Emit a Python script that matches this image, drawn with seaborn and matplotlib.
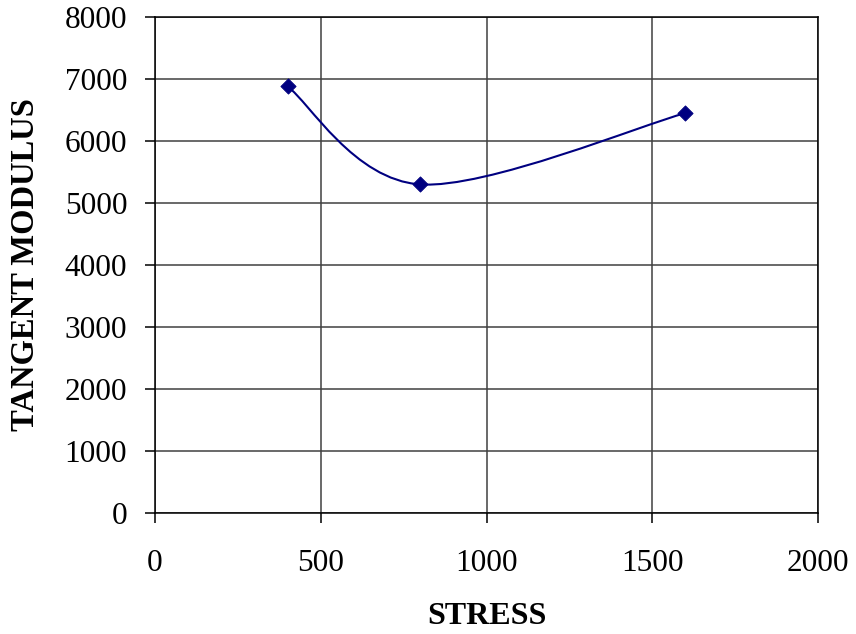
import numpy as np
import pandas as pd
import seaborn as sns
from matplotlib import pyplot as plt
from matplotlib.path import Path
from matplotlib.patches import PathPatch

# Data
stress = [400, 800, 1600]
tangent_modulus = [6880, 5300, 6450]

x_ticks = [0, 500, 1000, 1500, 2000]
y_ticks = [0, 1000, 2000, 3000, 4000, 5000, 6000, 7000, 8000]

navy = "#000080"

sns.set_style("white")
plt.rcParams["font.family"] = ["Liberation Serif", "DejaVu Serif"]
plt.rcParams["text.color"] = "black"
plt.rcParams["axes.labelcolor"] = "black"
plt.rcParams["xtick.color"] = "black"
plt.rcParams["ytick.color"] = "black"

df = pd.DataFrame({"stress": stress, "modulus": tangent_modulus})

fig = plt.figure(figsize=(8.56, 6.34), dpi=100)
ax = fig.add_axes([155 / 856, 1 - 513 / 634, 663 / 856, 496 / 634])

# Excel-style smoothed line: Bezier segments with Catmull-Rom control points
pts = np.column_stack([stress, tangent_modulus]).astype(float)
ext = np.vstack([pts[0], pts, pts[-1]])
verts = [tuple(pts[0])]
codes = [Path.MOVETO]
for i in range(1, len(ext) - 2):
    p0, p1, p2, p3 = ext[i - 1], ext[i], ext[i + 1], ext[i + 2]
    c1 = p1 + (p2 - p0) / 6
    c2 = p2 - (p3 - p1) / 6
    verts += [tuple(c1), tuple(c2), tuple(p2)]
    codes += [Path.CURVE4] * 3
ax.add_patch(PathPatch(Path(verts, codes), facecolor="none", edgecolor=navy, lw=1.5, zorder=3))

sns.scatterplot(data=df, x="stress", y="modulus", marker="D", s=60, color=navy,
                edgecolor=navy, ax=ax, zorder=4)

ax.set_xlim(0, 2000)
ax.set_ylim(0, 8000)
ax.set_xticks(x_ticks)
ax.set_yticks(y_ticks)
ax.grid(True, color="#404040", lw=1.1)
ax.set_axisbelow(True)
for s in ax.spines.values():
    s.set_color("black")
    s.set_linewidth(1.1)
ax.tick_params(axis="both", direction="out", length=7, width=1.1, color="black",
               labelsize=22.5, bottom=True, left=True)
ax.tick_params(axis="x", pad=19)
ax.tick_params(axis="y", pad=13)

ax.set_xlabel("STRESS", fontsize=23, fontweight="bold", labelpad=17)
ax.set_ylabel("TANGENT MODULUS", fontsize=23.5, fontweight="bold", labelpad=17)

fig.savefig("out.png", dpi=100)
